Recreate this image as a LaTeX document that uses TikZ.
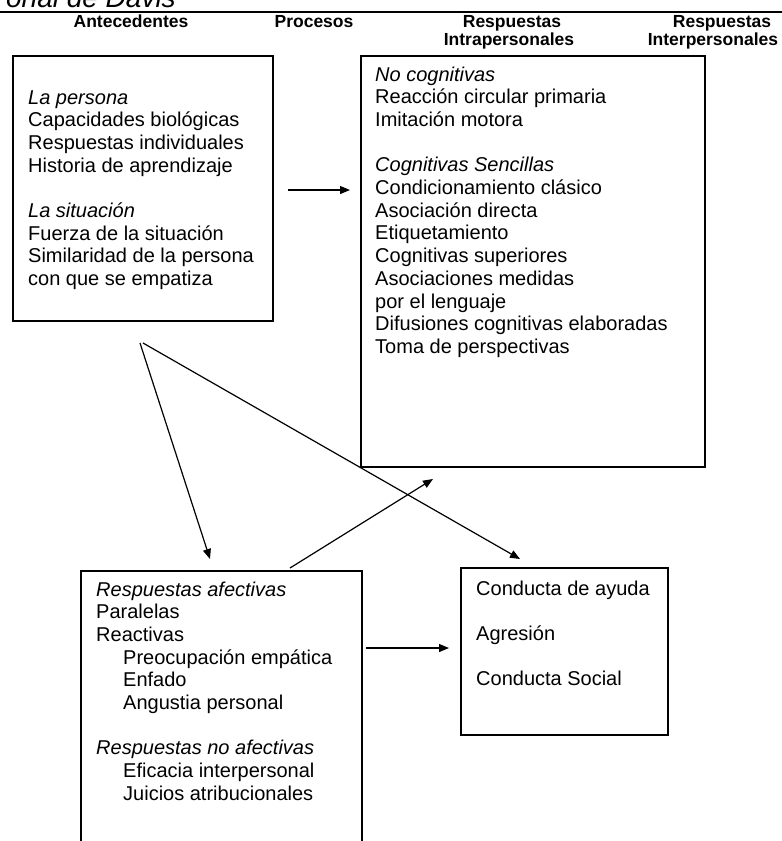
\documentclass[tikz,border=0pt]{standalone}
\usepackage{fontspec}
\setmainfont{Liberation Sans}
\usetikzlibrary{arrows.meta,fit}
\begin{document}
\begin{tikzpicture}[x=1pt,y=-1pt,
  box/.style={draw, line width=1.2pt, inner sep=0pt},
  txt/.style={anchor=base west, inner sep=0pt, font=\fontsize{20}{22.7}\selectfont},
  hdr/.style={anchor=base, inner sep=0pt, font=\fontsize{17.5}{18}\selectfont\bfseries},
  arr/.style={-{Triangle[length=10pt,width=8pt]}, line width=1.2pt}]
\useasboundingbox (0,0) rectangle (782,841);
\clip (0,0) rectangle (782,841);
% title (cut off at the top) and rule
\node[anchor=base east, inner sep=0pt, font=\fontsize{28}{30}\selectfont\itshape] (title) at (176,7) {onal de Davis};
\draw[line width=2pt] (0,12) -- (782,12);
% column headers
\node[hdr] (h1) at (131,27) {Antecedentes};
\node[hdr] (h2) at (314,27) {Procesos};
\node[hdr] (h3a) at (512,27) {Respuestas};
\node[hdr] (h3b) at (509,45) {Intrapersonales};
\node[hdr] (h4a) at (722,27) {Respuestas};
\node[hdr] (h4b) at (713,45) {Interpersonales};
% boxes
\node[box, fit={(13,56) (273,321)}] (b1) {};
\node[box, fit={(361,56) (705,467)}] (b2) {};
\node[box, fit={(81,571) (362,870)}] (b3) {};
\node[box, fit={(461,568) (668,735)}] (b4) {};
% box texts
\node[txt] (t1) at (28,104) {\parbox[t]{240pt}{\textit{La persona}\\Capacidades biológicas\\Respuestas individuales\\Historia de aprendizaje\\[22.7pt]\textit{La situación}\\Fuerza de la situación\\Similaridad de la persona\\con que se empatiza}};
\node[txt] (t2) at (375,81) {\parbox[t]{320pt}{\textit{No cognitivas}\\Reacción circular primaria\\Imitación motora\\[22.7pt]\textit{Cognitivas Sencillas}\\Condicionamiento clásico\\Asociación directa\\Etiquetamiento\\Cognitivas superiores\\Asociaciones medidas\\por el lenguaje\\Difusiones cognitivas elaboradas\\Toma de perspectivas}};
\node[txt] (t3) at (96,596) {\parbox[t]{260pt}{\textit{Respuestas afectivas}\\Paralelas\\Reactivas\\\hspace*{27pt}Preocupación empática\\\hspace*{27pt}Enfado\\\hspace*{27pt}Angustia personal\\[22.7pt]\textit{Respuestas no afectivas}\\\hspace*{27pt}Eficacia interpersonal\\\hspace*{27pt}Juicios atribucionales}};
\node[txt] (t4) at (476,595) {\parbox[t]{190pt}{Conducta de ayuda\\[22.7pt]Agresión\\[22.7pt]Conducta Social}};
% arrow end points
\coordinate (a1s) at (288,190);
\coordinate (a1e) at (350,190);
\coordinate (a2s) at (140,343);
\coordinate (a2e) at (210,559);
\coordinate (a3s) at (143,343);
\coordinate (a3e) at (520,559);
\coordinate (a4s) at (290,568);
\coordinate (a4e) at (433,479);
\coordinate (a5s) at (366,648);
\coordinate (a5e) at (449,648);
% arrows
\draw[arr] (a1s) -- (a1e);
\draw[arr] (a2s) -- (a2e);
\draw[arr] (a3s) -- (a3e);
\draw[arr] (a4s) -- (a4e);
\draw[arr] (a5s) -- (a5e);
\end{tikzpicture}
\end{document}
